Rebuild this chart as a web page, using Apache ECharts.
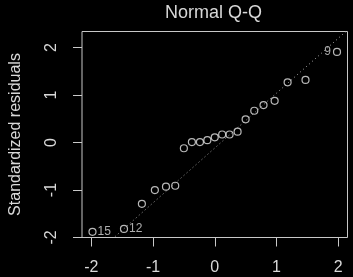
<!DOCTYPE html>
<html>
<head>
<meta charset="utf-8">
<script src="https://cdn.jsdelivr.net/npm/echarts@6/dist/echarts.min.js"></script>
<style>
  html, body { margin: 0; padding: 0; background: #000; }
  #main { width: 353px; height: 277px; }
</style>
</head>
<body>
<div id="main"></div>
<script>
// theoretical quantiles (x) and standardized residuals (y), 21 points
var theoQuantiles = [-1.98, -1.47, -1.18, -0.97, -0.79, -0.64, -0.50, -0.37, -0.24, -0.12, 0,
                     0.12, 0.24, 0.37, 0.50, 0.64, 0.79, 0.97, 1.18, 1.47, 1.98];
var stdResiduals = [-1.88, -1.82, -1.29, -1.00, -0.93, -0.91, -0.12, 0.01, 0.01, 0.05, 0.11,
                    0.17, 0.17, 0.23, 0.49, 0.67, 0.79, 0.88, 1.27, 1.32, 1.91];
// labelled observations: index -> label
var pointNames = { 0: '15', 1: '12', 20: '9' };
// reference line endpoints
var qqLineX = [-2.15, 2.15];
var qqLineY = [-2.60, 2.37];
var tickValues = [-2, -1, 0, 1, 2];

var myChart = echarts.init(document.getElementById('main'));

var pts = theoQuantiles.map(function (q, i) {
    var item = { value: [q, stdResiduals[i]] };
    if (pointNames[i]) {
        item.label = {
            show: true,
            formatter: pointNames[i],
            position: i < 10 ? 'right' : 'left',
            distance: i < 10 ? 1 : 2
        };
    }
    return item;
});

var lineColor = '#c8c8c8';
var textColor = '#d8d8d8';
var font = 'Liberation Sans, Arial, sans-serif';

var option = {
    backgroundColor: '#000',
    animation: false,
    textStyle: { fontFamily: font },
    title: {
        text: 'Normal Q-Q',
        left: 165,
        top: 4,
        padding: 0,
        textStyle: { color: textColor, fontSize: 18, fontWeight: 'normal', fontFamily: font }
    },
    grid: {
        left: 82,
        right: 5.5,
        top: 31.5,
        bottom: 39.5,
        show: true,
        borderColor: lineColor,
        borderWidth: 1
    },
    xAxis: {
        type: 'value',
        min: -2.15,
        max: 2.15,
        splitLine: { show: false },
        axisLine: { show: false, onZero: false },
        axisTick: { show: true, length: 9, lineStyle: { color: lineColor }, customValues: tickValues },
        axisLabel: { color: textColor, fontSize: 16, margin: 22, customValues: tickValues }
    },
    yAxis: {
        type: 'value',
        min: -2.0,
        max: 2.34,
        name: 'Standardized residuals',
        nameLocation: 'middle',
        nameGap: 58,
        nameTextStyle: { color: textColor, fontSize: 16 },
        splitLine: { show: false },
        axisLine: { show: false, onZero: false },
        axisTick: { show: true, length: 9, lineStyle: { color: lineColor }, customValues: tickValues },
        axisLabel: { color: textColor, fontSize: 16, margin: 22, rotate: 90, customValues: tickValues }
    },
    series: [
        {
            type: 'line',
            data: [[qqLineX[0], qqLineY[0]], [qqLineX[1], qqLineY[1]]],
            showSymbol: false,
            clip: true,
            silent: true,
            lineStyle: { color: '#aaaaaa', width: 1, type: [1, 3] },
            z: 1
        },
        {
            type: 'scatter',
            data: pts,
            symbol: 'circle',
            symbolSize: 7,
            itemStyle: { color: 'transparent', borderColor: '#e6e6e6', borderWidth: 1.2 },
            label: { color: textColor, fontSize: 12 },
            z: 2
        }
    ]
};

myChart.setOption(option);
</script>
</body>
</html>
